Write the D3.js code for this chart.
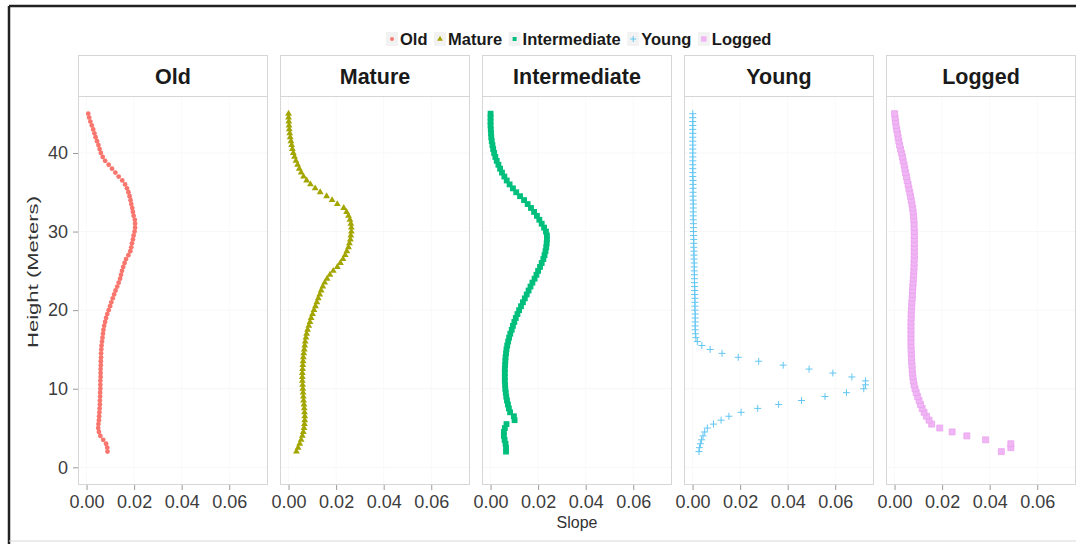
<!DOCTYPE html>
<html>
<head>
<meta charset="utf-8">
<script src="https://cdn.jsdelivr.net/npm/d3@7"></script>
<style>
  html, body { margin: 0; padding: 0; background: #fff; }
  svg { display: block; }
  text { font-family: "Liberation Sans", Arial, sans-serif; }
</style>
</head>
<body>
<svg id="chart" width="1076" height="544"></svg>
<script>
// ---------------- DATA ----------------
const categories = ["Old", "Mature", "Intermediate", "Young", "Logged"];
const xTickValues = [0.00, 0.02, 0.04, 0.06];
const yTickValues = [0, 10, 20, 30, 40];

const heights = [
  2, 2.5, 3, 3.5, 4, 4.5, 5, 5.5, 6, 6.5,
  7, 7.5, 8, 8.5, 9, 9.5, 10, 10.5, 11, 11.5,
  12, 12.5, 13, 13.5, 14, 14.5, 15, 15.5, 16, 16.5,
  17, 17.5, 18, 18.5, 19, 19.5, 20, 20.5, 21, 21.5,
  22, 22.5, 23, 23.5, 24, 24.5, 25, 25.5, 26, 26.5,
  27, 27.5, 28, 28.5, 29, 29.5, 30, 30.5, 31, 31.5,
  32, 32.5, 33, 33.5, 34, 34.5, 35, 35.5, 36, 36.5,
  37, 37.5, 38, 38.5, 39, 39.5, 40, 40.5, 41, 41.5,
  42, 42.5, 43, 43.5, 44, 44.5, 45
];

const slopeOld = [
  0.0088,0.0087,0.0082,0.0070,0.0058,0.0052,0.0049,0.0050,0.0052,0.0053,
  0.0054,0.0055,0.0056,0.0056,0.0057,0.0057,0.0058,0.0058,0.0058,0.0059,
  0.0059,0.0059,0.0060,0.0060,0.0061,0.0061,0.0062,0.0063,0.0065,0.0067,
  0.0069,0.0071,0.0074,0.0078,0.0082,0.0087,0.0093,0.0099,0.0104,0.0110,
  0.0116,0.0122,0.0129,0.0135,0.0141,0.0145,0.0149,0.0154,0.0160,0.0166,
  0.0176,0.0184,0.0188,0.0191,0.0195,0.0198,0.0202,0.0204,0.0204,0.0203,
  0.0198,0.0195,0.0192,0.0188,0.0185,0.0181,0.0176,0.0170,0.0162,0.0150,
  0.0135,0.0121,0.0107,0.0093,0.0078,0.0068,0.0060,0.0055,0.0050,0.0044,
  0.0038,0.0033,0.0028,0.0022,0.0016,0.0011,0.0007
];
const slopeMature = [
  0.0033,0.0040,0.0047,0.0053,0.0058,0.0062,0.0065,0.0067,0.0068,0.0068,
  0.0067,0.0066,0.0065,0.0063,0.0062,0.0061,0.0060,0.0059,0.0058,0.0058,
  0.0058,0.0059,0.0060,0.0061,0.0062,0.0064,0.0066,0.0068,0.0070,0.0073,
  0.0076,0.0080,0.0085,0.0090,0.0095,0.0101,0.0107,0.0113,0.0119,0.0125,
  0.0131,0.0137,0.0144,0.0152,0.0162,0.0174,0.0188,0.0205,0.0218,0.0229,
  0.0238,0.0245,0.0252,0.0256,0.0260,0.0262,0.0264,0.0264,0.0262,0.0258,
  0.0252,0.0244,0.0232,0.0205,0.0183,0.0160,0.0133,0.0112,0.0092,0.0076,
  0.0063,0.0053,0.0045,0.0038,0.0031,0.0025,0.0020,0.0016,0.0013,0.0010,
  0.0007,0.0005,0.0003,0.0002,0.0001,0.0000,0.0000
];
const slopeIntermediate = [
  0.0065,0.0065,0.0063,0.0059,0.0056,0.0056,0.0060,0.0067,0.0101,0.0098,
  0.0082,0.0077,0.0073,0.0069,0.0066,0.0064,0.0062,0.0061,0.0060,0.0060,
  0.0060,0.0060,0.0061,0.0062,0.0063,0.0065,0.0067,0.0070,0.0074,0.0078,
  0.0083,0.0089,0.0094,0.0100,0.0106,0.0113,0.0120,0.0128,0.0136,0.0144,
  0.0152,0.0160,0.0168,0.0176,0.0185,0.0193,0.0200,0.0208,0.0215,0.0222,
  0.0227,0.0231,0.0234,0.0236,0.0237,0.0237,0.0233,0.0225,0.0215,0.0205,
  0.0195,0.0183,0.0170,0.0156,0.0141,0.0124,0.0108,0.0094,0.0080,0.0068,
  0.0058,0.0048,0.0040,0.0033,0.0026,0.0020,0.0015,0.0011,0.0008,0.0005,
  0.0003,0.0002,0.0001,0.0000,0.0000,0.0000,0.0000
];
const slopeYoung = [
  0.0027,0.0029,0.0033,0.0038,0.0044,0.0051,0.0062,0.0088,0.0120,0.0153,
  0.0204,0.0274,0.0362,0.0458,0.0557,0.0647,0.0720,0.0727,0.0727,0.0670,
  0.0590,0.0490,0.0381,0.0278,0.0192,0.0124,0.0074,0.0039,0.0020,0.0014,
  0.0012,0.0011,0.0011,0.0011,0.0011,0.0011,0.0010,0.0010,0.0010,0.0010,
  0.0009,0.0009,0.0009,0.0008,0.0008,0.0008,0.0007,0.0007,0.0007,0.0006,
  0.0006,0.0006,0.0005,0.0005,0.0005,0.0004,0.0004,0.0004,0.0004,0.0003,
  0.0003,0.0003,0.0003,0.0003,0.0002,0.0002,0.0002,0.0002,0.0002,0.0002,
  0.0001,0.0001,0.0001,0.0001,0.0001,0.0001,0.0001,0.0001,0.0001,0.0001,
  0.0001,0.0001,0.0001,0.0001,0.0001,0.0001,0.0001
];
const slopeLogged = [
  0.0449,0.0489,0.0489,0.0383,0.0304,0.0242,0.0190,0.0156,0.0145,0.0134,
  0.0124,0.0116,0.0109,0.0103,0.0097,0.0091,0.0086,0.0082,0.0079,0.0077,
  0.0075,0.0074,0.0073,0.0072,0.0071,0.0070,0.0070,0.0069,0.0069,0.0069,
  0.0069,0.0069,0.0069,0.0069,0.0070,0.0070,0.0071,0.0072,0.0073,0.0074,
  0.0075,0.0076,0.0077,0.0078,0.0079,0.0080,0.0081,0.0082,0.0082,0.0083,
  0.0083,0.0083,0.0083,0.0083,0.0083,0.0083,0.0083,0.0082,0.0082,0.0081,
  0.0080,0.0078,0.0076,0.0073,0.0070,0.0067,0.0064,0.0060,0.0057,0.0053,
  0.0050,0.0046,0.0043,0.0040,0.0036,0.0033,0.0029,0.0025,0.0021,0.0018,
  0.0015,0.0012,0.0009,0.0006,0.0004,0.0002,0.0000
];

const seriesValues = [slopeOld, slopeMature, slopeIntermediate, slopeYoung, slopeLogged];
const colors = ["#F8766D", "#A3A500", "#00BF7D", "#00B0F6", "#E76BF3"];

// ---------------- LAYOUT ----------------
const svg = d3.select("#chart");
const W = 1076, H = 544;
const panelLeft0 = 78, panelW = 190, panelStep = 202;
const stripTop = 55, panelTop = 96, panelBottom = 485;

// frame of the figure
svg.append("line").attr("x1", 9).attr("x2", W).attr("y1", 6).attr("y2", 6)
  .attr("stroke", "#222").attr("stroke-width", 2.5);
svg.append("line").attr("x1", 9).attr("x2", 9).attr("y1", 6).attr("y2", H)
  .attr("stroke", "#222").attr("stroke-width", 2.5);
svg.append("line").attr("x1", 9).attr("x2", W).attr("y1", 541).attr("y2", 541)
  .attr("stroke", "#d8d8d8").attr("stroke-width", 1);

const y = d3.scaleLinear().domain([-2.25, 47.25]).range([panelBottom, panelTop]);

function drawMarker(sel, i) {
  if (i === 0) {
    sel.append("path").attr("d", d3.symbol().type(d3.symbolCircle).size(18)())
      .attr("fill", colors[0]);
  } else if (i === 1) {
    sel.append("path").attr("d", d3.symbol().type(d3.symbolTriangle).size(20)())
      .attr("fill", colors[1]);
  } else if (i === 2) {
    sel.append("path").attr("d", d3.symbol().type(d3.symbolSquare).size(34)())
      .attr("fill", colors[2]);
  } else if (i === 3) {
    sel.append("path").attr("d", "M-3.5,0H3.5M0,-3.5V3.5")
      .attr("fill", "none").attr("stroke", "#62c6f2").attr("stroke-width", 1);
  } else {
    sel.append("path").attr("d", d3.symbol().type(d3.symbolSquare).size(36)())
      .attr("fill", "#f0b6f4").attr("stroke", "#ea9fef").attr("stroke-width", 0.7);
  }
}

categories.forEach((cat, i) => {
  const left = panelLeft0 + i * panelStep;
  const x = d3.scaleLinear().domain([-0.0036, 0.0763]).range([left, left + panelW]);
  const g = svg.append("g");

  g.append("rect").attr("x", left).attr("y", panelTop).attr("width", panelW)
    .attr("height", panelBottom - panelTop).attr("fill", "#fff");

  // faint grid
  g.selectAll(".gy").data(yTickValues).enter().append("line")
    .attr("x1", left).attr("x2", left + panelW)
    .attr("y1", d => y(d)).attr("y2", d => y(d))
    .attr("stroke", "#f7f7f7").attr("stroke-width", 1);
  g.selectAll(".gx").data(xTickValues).enter().append("line")
    .attr("x1", d => x(d)).attr("x2", d => x(d))
    .attr("y1", panelTop).attr("y2", panelBottom)
    .attr("stroke", "#f9f9f9").attr("stroke-width", 1);

  // strip
  g.append("rect").attr("x", left + 0.5).attr("y", stripTop + 0.5).attr("width", panelW - 1)
    .attr("height", panelTop - stripTop).attr("fill", "#fff")
    .attr("stroke", "#d6d6d6").attr("stroke-width", 1);
  g.append("text").attr("x", left + panelW / 2).attr("y", 83.5)
    .attr("text-anchor", "middle").attr("font-size", 21.5).attr("font-weight", "bold")
    .attr("fill", "#1a1a1a").text(cat);

  // points
  const pg = g.append("g");
  heights.forEach((h, k) => {
    const m = pg.append("g").attr("transform", `translate(${x(seriesValues[i][k])},${y(h)})`);
    drawMarker(m, i);
  });

  // panel border
  g.append("rect").attr("x", left + 0.5).attr("y", panelTop + 0.5).attr("width", panelW - 1)
    .attr("height", panelBottom - panelTop - 1).attr("fill", "none")
    .attr("stroke", "#d6d6d6").attr("stroke-width", 1);

  // x axis
  const xAxis = d3.axisBottom(x).tickValues(xTickValues).tickFormat(d3.format(".2f"))
    .tickSize(5).tickPadding(5);
  const xa = g.append("g").attr("transform", `translate(0,${panelBottom})`).call(xAxis);
  xa.select(".domain").remove();
  xa.selectAll(".tick line").attr("stroke", "#9a9a9a");
  xa.selectAll(".tick text").attr("font-size", 18).attr("fill", "#3d3d3d")
    .attr("font-family", "Liberation Sans, Arial, sans-serif");

  if (i === 0) {
    const yAxis = d3.axisLeft(y).tickValues(yTickValues).tickSize(5).tickPadding(5);
    const ya = g.append("g").attr("transform", `translate(${left},0)`).call(yAxis);
    ya.select(".domain").remove();
    ya.selectAll(".tick line").attr("stroke", "#9a9a9a");
    ya.selectAll(".tick text").attr("font-size", 18).attr("fill", "#3d3d3d")
      .attr("font-family", "Liberation Sans, Arial, sans-serif");
  }
});

// axis titles
svg.append("text").attr("x", 577).attr("y", 528).attr("text-anchor", "middle")
  .attr("font-size", 16).attr("fill", "#333").text("Slope");
svg.append("text").attr("transform", "translate(38,272) rotate(-90)")
  .attr("text-anchor", "middle").attr("font-size", 14.5).attr("fill", "#333")
  .attr("textLength", 152).attr("lengthAdjust", "spacingAndGlyphs")
  .text("Height (Meters)");

// legend
const legend = svg.append("g");
let lx = 386;
const ly = 39;
categories.forEach((cat, i) => {
  const item = legend.append("g").attr("transform", `translate(${lx},0)`);
  item.append("rect").attr("x", 0).attr("y", ly - 7).attr("width", 12).attr("height", 14)
    .attr("fill", "#f2f2f2");
  const mk = item.append("g").attr("transform", `translate(6,${ly})`);
  if (i === 3) {
    mk.append("path").attr("d", "M-3,0H3M0,-3V3").attr("stroke", "#62c6f2")
      .attr("fill", "none").attr("stroke-width", 1);
  } else if (i === 4) {
    mk.append("path").attr("d", d3.symbol().type(d3.symbolSquare).size(30)())
      .attr("fill", "#f0b6f4");
  } else {
    const types = [d3.symbolCircle, d3.symbolTriangle, d3.symbolSquare];
    const sizes = [12, 14, 16];
    mk.append("path").attr("d", d3.symbol().type(types[i]).size(sizes[i])())
      .attr("fill", colors[i]);
  }
  const t = item.append("text").attr("x", 14).attr("y", ly + 6)
    .attr("font-size", 16.5).attr("font-weight", "bold").attr("fill", "#1a1a1a").text(cat);
  lx += 14 + t.node().getComputedTextLength() + 6.5;
});
</script>
</body>
</html>
